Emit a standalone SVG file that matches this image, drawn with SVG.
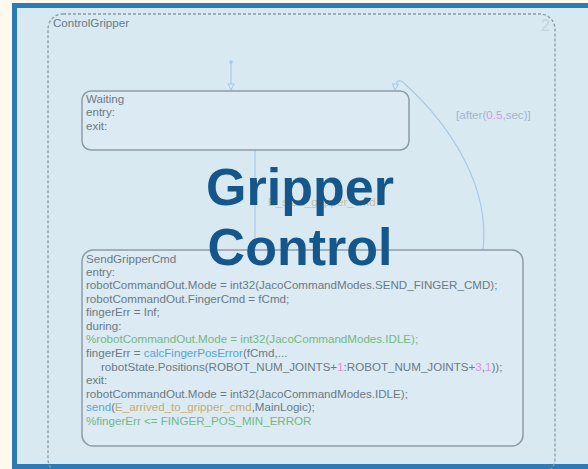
<svg xmlns="http://www.w3.org/2000/svg" width="588" height="469" viewBox="0 0 588 469">
<style>
.t{font-family:"Liberation Sans",Arial,sans-serif;font-size:11.6px;fill:#6b7a84}
.st{fill:#dbeaf3;stroke:#8d9ca6;stroke-width:1.5}
.tr{fill:none;stroke:#a9c9e6;stroke-width:1.2}
.g{fill:#74b884}
.b{fill:#55a6d6}
.p{fill:#d596dc}
.y{fill:#c7ae6e}
.title{font-family:"Liberation Sans",Arial,sans-serif;font-weight:bold;font-size:52px;fill:#15578b;text-anchor:middle}
</style>
<defs>
<marker id="ah" viewBox="0 0 8 8" refX="7" refY="4" markerWidth="8" markerHeight="8" markerUnits="userSpaceOnUse" orient="auto">
<path d="M1,1 L7,4 L1,7 Z" fill="#dbeaf3" stroke="#a9c9e6" stroke-width="1"/>
</marker>
</defs>
<rect width="588" height="469" fill="#fdf9ec"/>
<rect x="14.5" y="5.5" width="576" height="461" fill="#d8e9f2" stroke="#2c7bb6" stroke-width="5"/>
<g id="chart">
<rect x="48" y="14" width="507" height="460" rx="15" fill="none" stroke="#8e9aa3" stroke-width="1.3" stroke-dasharray="3,2"/>
<text class="t" x="53" y="27" font-size="11px">ControlGripper</text>
<text x="541" y="31" font-family="Liberation Sans,Arial,sans-serif" font-size="16" fill="#c5d3dc">2</text>
</g>
<g id="connectors">
<circle cx="231" cy="62" r="1.8" fill="#a9c9e6"/>
<path class="tr" d="M231,62 L231,90" marker-end="url(#ah)"/>
<path class="tr" d="M255,150 L255,250"/>
<text class="t y" x="268" y="206" opacity="0.7">E_start_gripper_cmd</text>
<path class="tr" d="M483,250 C490,190 455,130 405,84 Q396,75 395,90" marker-end="url(#ah)"/>
<text class="t" x="456" y="119" style="fill:#a5b4cc">[after(<tspan class="p">0.5</tspan>,sec)]</text>
</g>
<g id="waiting">
<rect class="st" x="82" y="91" width="327" height="59" rx="9"/>
<text class="t" x="86" y="103">Waiting</text>
<text class="t" x="86" y="116">entry:</text>
<text class="t" x="86" y="130">exit:</text>
</g>
<g id="sendGripperCmd">
<rect class="st" x="82" y="250" width="441" height="196" rx="11"/>
<text class="t" x="86" y="263">SendGripperCmd</text>
<text class="t" x="86" y="276">entry:</text>
<text class="t" x="86" y="289">robotCommandOut.Mode = int32(JacoCommandModes.SEND_FINGER_CMD);</text>
<text class="t" x="86" y="303">robotCommandOut.FingerCmd = fCmd;</text>
<text class="t" x="86" y="316">fingerErr = Inf;</text>
<text class="t" x="86" y="330">during:</text>
<text class="t g" x="86" y="343">%robotCommandOut.Mode = int32(JacoCommandModes.IDLE);</text>
<text class="t" x="86" y="357">fingerErr = <tspan class="b">calcFingerPosError</tspan>(fCmd,...</text>
<text class="t" x="101" y="371">robotState.Positions(ROBOT_NUM_JOINTS+<tspan class="p">1</tspan>:ROBOT_NUM_JOINTS+<tspan class="p">3</tspan>,<tspan class="p">1</tspan>));</text>
<text class="t" x="86" y="384">exit:</text>
<text class="t" x="86" y="398">robotCommandOut.Mode = int32(JacoCommandModes.IDLE);</text>
<text class="t" x="86" y="411"><tspan class="b">send</tspan>(<tspan class="y">E_arrived_to_gripper_cmd</tspan>,MainLogic);</text>
<text class="t g" x="86" y="425">%fingerErr &lt;= FINGER_POS_MIN_ERROR</text>
</g>
<g id="title">
<text class="title" x="300" y="205">Gripper</text>
<text class="title" x="300" y="265">Control</text>
</g>
</svg>
